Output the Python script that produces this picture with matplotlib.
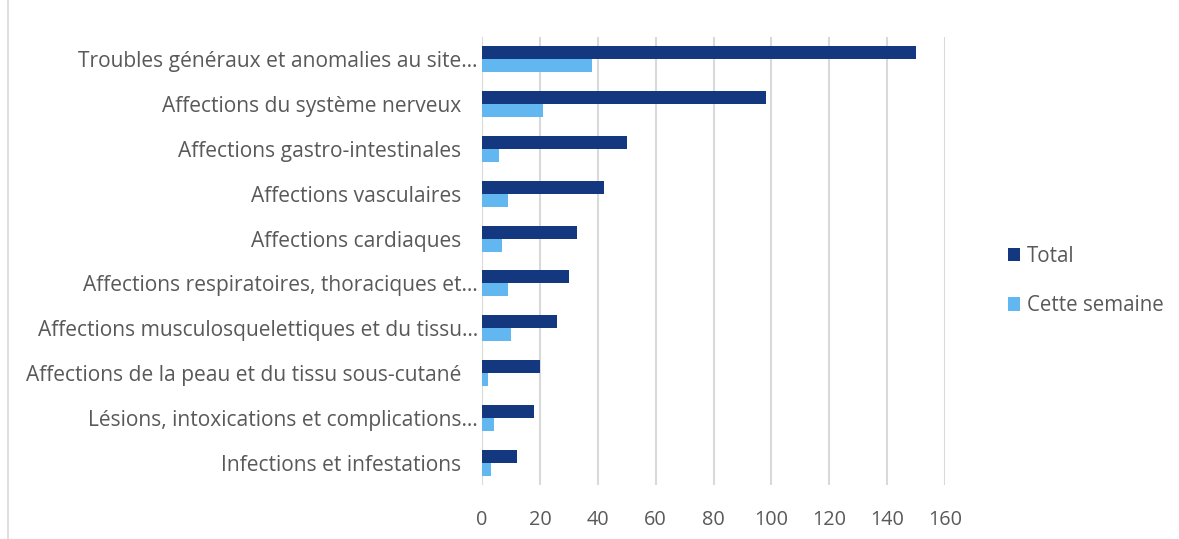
import matplotlib
matplotlib.use("Agg")
import matplotlib.pyplot as plt
import numpy as np
from matplotlib.lines import Line2D

categories = [
    "Troubles généraux et anomalies au site…",
    "Affections du système nerveux",
    "Affections gastro-intestinales",
    "Affections vasculaires",
    "Affections cardiaques",
    "Affections respiratoires, thoraciques et…",
    "Affections musculosquelettiques et du tissu…",
    "Affections de la peau et du tissu sous-cutané",
    "Lésions, intoxications et complications…",
    "Infections et infestations",
]
total = [150, 98, 50, 42, 33, 30, 26, 20, 18, 12]
cette_semaine = [38, 21, 6, 9, 7, 9, 10, 2, 4, 3]
xticks = [0, 20, 40, 60, 80, 100, 120, 140, 160]

plt.rcParams['font.family'] = ['Open Sans', 'DejaVu Sans']
text_color = "#595959"
c_total = "#14387F"
c_week = "#63B7F0"
fs = 15.1

fig = plt.figure(figsize=(11.79, 5.39), dpi=100)
ax = fig.add_axes([482/1179, 1-485/539, (945-482)/1179, (485-37)/539])

y = np.arange(len(categories))
h = 0.29
ax.barh(y - h/2, total, height=h, color=c_total, label="Total", zorder=3)
ax.barh(y + h/2, cette_semaine, height=h, color=c_week, label="Cette semaine", zorder=3)

ax.set_ylim(len(categories) - 0.5, -0.5)
ax.set_xlim(0, 160)
ax.set_xticks(xticks)
ax.set_xticklabels([str(v) for v in xticks], fontsize=14.3, color=text_color)
ax.set_yticks(y)
labels = [c if c.endswith("…") else c + "   " for c in categories]
ax.set_yticklabels(labels, fontsize=fs, color=text_color)
ax.tick_params(axis='y', length=0, pad=3)
ax.tick_params(axis='x', length=0, pad=18)
ax.grid(axis='x', color="#D9D9D9", linewidth=1.5, zorder=0)
for s in ax.spines.values():
    s.set_visible(False)

ax.legend(loc='center left', bbox_to_anchor=(989/1179, 1-281/539), bbox_transform=fig.transFigure,
          frameon=False, fontsize=14.8, labelcolor=text_color, handlelength=0.63, handleheight=0.63,
          handletextpad=0.3, labelspacing=1.4)

fig.add_artist(Line2D([8/1179, 8/1179], [0, 1], transform=fig.transFigure, color="#D9D9D9", linewidth=1.2))

fig.savefig("out.png", dpi=100)
